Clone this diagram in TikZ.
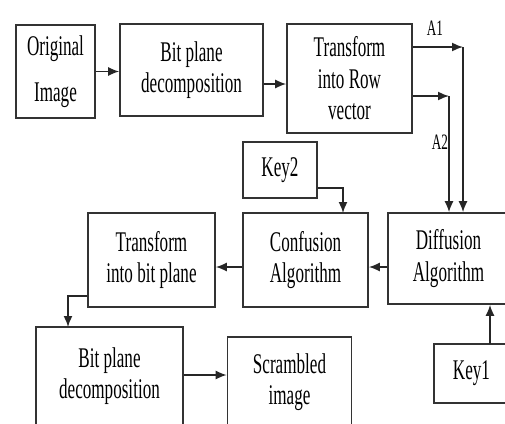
\documentclass[tikz,border=0pt]{standalone}
\usepackage{fontspec}
\setmainfont{Liberation Serif}[FakeStretch=0.6]
\usetikzlibrary{arrows.meta}

\tikzset{
  blk/.style={draw=black!80, line width=1.6pt, align=center, inner sep=2pt,
    font=\fontsize{28.5}{31.5}\selectfont},
  arr/.style={draw=black!85, line width=1.6pt, -{Latex[length=11pt,width=9pt]}},
  lab/.style={inner sep=0pt, font=\fontsize{22}{24}\selectfont}
}

\begin{document}
\begin{tikzpicture}[x=1pt,y=-1pt]
\useasboundingbox (0,0) rectangle (505,423);
\clip (0,0) rectangle (505,423);
\fill[white] (0,0) rectangle (505,423);

% first row
\node (orig) at (55.5,71.5) [blk, minimum width=79, minimum height=93]{Original\\[14pt]Image};
\node (bp1) at (191.5,70) [blk, minimum width=143, minimum height=92]{Bit plane\\decomposition};
\node (trow) at (349.5,78.5) [blk, minimum width=125, minimum height=109]{Transform\\into Row\\vector};

\draw[arr] (orig.east) -- (orig.east -| bp1.west);
\draw[arr] ([yshift=-14pt]bp1.east) -- ([yshift=-14pt]bp1.east -| trow.west);

% the two outputs
\coordinate (a1) at (463,47);
\coordinate (a2) at (449,96);
\draw[arr] ([yshift=31.5pt]trow.east) -- (a1);
\draw[arr] ([yshift=-17.5pt]trow.east) -- (a2);
\node (lA1) at (435,28.5) [lab]{A1};
\node (lA2) at (440,142.5) [lab]{A2};

% second row
\node (key2) at (280,170) [blk, minimum width=74, minimum height=56]{Key2};
\node (conf) at (305.5,260) [blk, minimum width=125, minimum height=94]{Confusion\\Algorithm};
\node (diff) at (448.5,258.5) [blk, minimum width=121, minimum height=91]{Diffusion\\Algorithm};
\node (tbit) at (151.5,260) [blk, minimum width=127, minimum height=94]{Transform\\into bit plane};

\draw[arr] (a1) -- (a1 |- diff.north);
\draw[arr] (a2) -- (a2 |- diff.north);
\coordinate (k2) at (343,213);
\draw[arr] ([yshift=-18pt]key2.east) -| (k2);
\draw[arr] ([yshift=-8.5pt]diff.west) -- ([yshift=-8.5pt]diff.west -| conf.east);
\draw[arr] ([yshift=-7pt]conf.west) -- ([yshift=-7pt]conf.west -| tbit.east);

% last row
\node (bp2) at (109.5,376) [blk, minimum width=147, minimum height=98]{Bit plane\\decomposition};
\node (scr) at (289.5,382) [blk, minimum width=124, minimum height=90]{Scrambled\\image};
\node (key1) at (471.5,373.5) [blk, minimum width=75, minimum height=59]{Key1};

\coordinate (t2) at (68,327);
\draw[arr] ([yshift=-36pt]tbit.west) -| (t2);
\draw[arr] ([yshift=1pt]bp2.east) -- ([yshift=1pt]bp2.east -| scr.west);
\coordinate (k1) at (490,344);
\draw[arr] (k1) -- (k1 |- diff.south);
\end{tikzpicture}
\end{document}
